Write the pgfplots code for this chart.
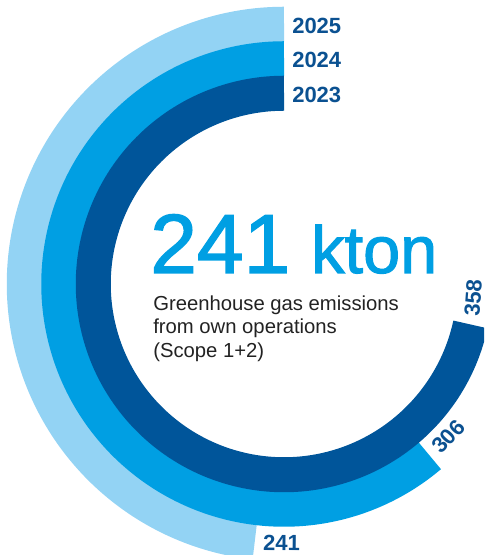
\documentclass[border=0pt]{standalone}
\usepackage{pgfplots}
\pgfplotsset{compat=1.18}
\usepackage{pgfplotstable}
\usepackage{fontspec}
\setmainfont{Liberation Sans}
\newfontfamily\headfont[FakeBold=1.6]{Liberation Sans}

\definecolor{ringlight}{HTML}{93D3F4}
\definecolor{ringmid}{HTML}{009FE3}
\definecolor{ringdark}{HTML}{00559A}
\definecolor{labelblue}{HTML}{0B5191}
\definecolor{bodytext}{HTML}{222222}

% emissions in kton; ring = radius of the band centre (px, 1px = 0.75pt)
\pgfplotstableread{
year value ring
2025 241 259.75
2024 306 225.25
2023 358 190.75
}\emissions

\newcommand{\degperkt}{0.72} % 500 kton = full circle

\tikzset{
  vallabel/.style={inner sep=0pt, text=labelblue, font=\bfseries\fontsize{16.5}{16.5}\selectfont},
  yearlabel/.style={inner sep=0pt, anchor=west, text=labelblue, font=\bfseries\fontsize{16.5}{16.5}\selectfont},
}

% one ring: row of the table, colour
\newcommand{\ringbar}[2]{%
  \pgfplotstablegetelem{#1}{year}\of\emissions \let\yr\pgfplotsretval
  \pgfplotstablegetelem{#1}{value}\of\emissions \let\val\pgfplotsretval
  \pgfplotstablegetelem{#1}{ring}\of\emissions \let\rad\pgfplotsretval
  \pgfmathsetmacro\aend{90+\degperkt*\val}
  \pgfmathsetmacro\alab{\aend+27/\rad*57.2958}
  \pgfmathsetmacro\xl{(\rad-1)*cos(\alab)}
  \pgfmathsetmacro\yl{(\rad-1)*sin(\alab)}
  \pgfmathsetmacro\rl{\alab+90}
  \edef\temp{%
    \noexpand\addplot[data cs=polar, domain=90:\aend, samples=241,
      draw=#2, line width=26.25pt, no markers] {\rad};
    \noexpand\node[vallabel, rotate=\rl] at (axis cs:\xl,\yl) {\val};
    \noexpand\node[yearlabel] at (axis cs:8,\rad-1.5) {\yr};
  }%
  \temp
}

\begin{document}
\begin{tikzpicture}
\begin{axis}[
  name=ax,
  hide axis,
  x=0.75pt, y=0.75pt,
  xmin=-284, xmax=200, ymin=-271, ymax=284,
  enlargelimits=false,
]
\ringbar{0}{ringlight}
\ringbar{1}{ringmid}
\ringbar{2}{ringdark}

\node[anchor=base west, inner sep=0pt, text=ringmid,
  font=\headfont\fontsize{63}{63}\selectfont] at (axis cs:-134,11) {241};
\node[anchor=base west, inner sep=0pt, text=ringmid,
  font=\headfont\fontsize{50}{50}\selectfont] at (axis cs:27,11) {kton};

\node[anchor=base west, inner sep=0pt, text=bodytext,
  font=\fontsize{15.2}{17.5}\selectfont] at (axis cs:-131,-26.7) {Greenhouse gas emissions};
\node[anchor=base west, inner sep=0pt, text=bodytext,
  font=\fontsize{15.2}{17.5}\selectfont] at (axis cs:-131,-50) {from own operations};
\node[anchor=base west, inner sep=0pt, text=bodytext,
  font=\fontsize{15.2}{17.5}\selectfont] at (axis cs:-131,-73.3) {(Scope 1+2)};
\end{axis}
\pgfresetboundingbox
\useasboundingbox (ax.south west) rectangle (ax.north east);
\end{tikzpicture}
\end{document}
